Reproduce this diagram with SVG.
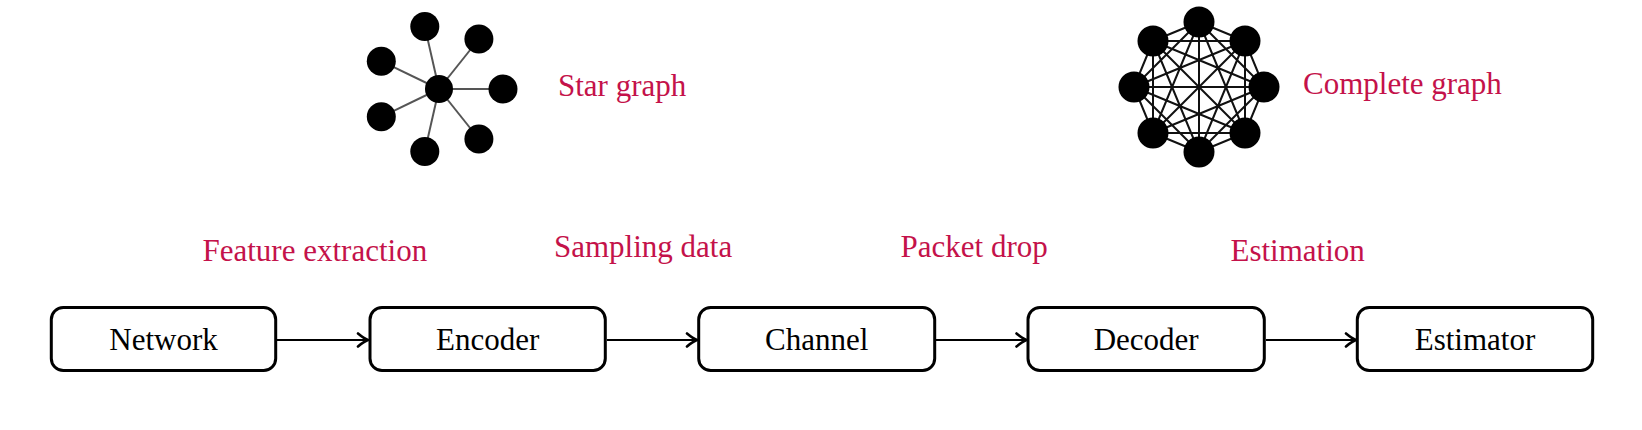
<svg xmlns="http://www.w3.org/2000/svg" width="1642" height="430" viewBox="0 0 1642 430">
<style>
.lbl{font-family:"Liberation Serif","Times New Roman",serif;font-size:31px;fill:#c4124a}
.txt{font-family:"Liberation Serif","Times New Roman",serif;font-size:31px;fill:#000;text-anchor:middle}
.box{fill:#fff;stroke:#000;stroke-width:3}
.dot{fill:#000}
.sedge{stroke:#555;stroke-width:2}
.cedge{stroke:#111;stroke-width:2}
.conn{stroke:#000;stroke-width:2;fill:none}
</style>
<defs>
<marker id="arr" markerUnits="userSpaceOnUse" viewBox="-12 -8 14 16" refX="0" refY="0" markerWidth="14" markerHeight="16" orient="auto">
<path d="M -10 -6.5 Q -4 -1.5 0 0 Q -4 1.5 -10 6.5" fill="none" stroke="#000" stroke-width="2.6" stroke-linecap="round" stroke-linejoin="round"/>
</marker>
</defs>
<rect width="1642" height="430" fill="#fff"/>
<g id="star-graph">
<line class="sedge" x1="439" y1="89" x2="503" y2="89"/>
<line class="sedge" x1="439" y1="89" x2="478.9" y2="39"/>
<line class="sedge" x1="439" y1="89" x2="478.9" y2="139"/>
<line class="sedge" x1="439" y1="89" x2="424.8" y2="26.6"/>
<line class="sedge" x1="439" y1="89" x2="424.8" y2="151.4"/>
<line class="sedge" x1="439" y1="89" x2="381.3" y2="61.2"/>
<line class="sedge" x1="439" y1="89" x2="381.3" y2="116.8"/>
<circle class="dot" cx="439" cy="89" r="14"/>
<circle class="dot" cx="503" cy="89" r="14.5"/>
<circle class="dot" cx="478.9" cy="39" r="14.5"/>
<circle class="dot" cx="478.9" cy="139" r="14.5"/>
<circle class="dot" cx="424.8" cy="26.6" r="14.5"/>
<circle class="dot" cx="424.8" cy="151.4" r="14.5"/>
<circle class="dot" cx="381.3" cy="61.2" r="14.5"/>
<circle class="dot" cx="381.3" cy="116.8" r="14.5"/>
<text class="lbl" x="558" y="96">Star graph</text>
</g>
<g id="complete-graph">
<path class="cedge" fill="none" d="M1199 22L1245 41M1199 22L1264 87M1199 22L1245 133M1199 22L1199 152M1199 22L1153 133M1199 22L1134 87M1199 22L1153 41
M1245 41L1264 87M1245 41L1245 133M1245 41L1199 152M1245 41L1153 133M1245 41L1134 87M1245 41L1153 41
M1264 87L1245 133M1264 87L1199 152M1264 87L1153 133M1264 87L1134 87M1264 87L1153 41
M1245 133L1199 152M1245 133L1153 133M1245 133L1134 87M1245 133L1153 41
M1199 152L1153 133M1199 152L1134 87M1199 152L1153 41
M1153 133L1134 87M1153 133L1153 41
M1134 87L1153 41"/>
<circle class="dot" cx="1199" cy="22" r="15.5"/>
<circle class="dot" cx="1245" cy="41" r="15.5"/>
<circle class="dot" cx="1264" cy="87" r="15.5"/>
<circle class="dot" cx="1245" cy="133" r="15.5"/>
<circle class="dot" cx="1199" cy="152" r="15.5"/>
<circle class="dot" cx="1153" cy="133" r="15.5"/>
<circle class="dot" cx="1134" cy="87" r="15.5"/>
<circle class="dot" cx="1153" cy="41" r="15.5"/>
<text class="lbl" x="1303" y="94">Complete graph</text>
</g>
<g id="connectors">
<line class="conn" x1="277" y1="340" x2="368" y2="340" marker-end="url(#arr)"/>
<line class="conn" x1="607" y1="340" x2="697" y2="340" marker-end="url(#arr)"/>
<line class="conn" x1="936" y1="340" x2="1026.5" y2="340" marker-end="url(#arr)"/>
<line class="conn" x1="1266" y1="340" x2="1356" y2="340" marker-end="url(#arr)"/>
</g>
<g id="labels">
<text class="lbl" x="202.5" y="261">Feature extraction</text>
<text class="lbl" x="554" y="257">Sampling data</text>
<text class="lbl" x="900.5" y="257">Packet drop</text>
<text class="lbl" x="1230.5" y="261">Estimation</text>
</g>
<g id="node-network">
<rect class="box" x="51.3" y="307.5" width="224.4" height="63" rx="12"/>
<text class="txt" x="163.5" y="350">Network</text>
</g>
<g id="node-encoder">
<rect class="box" x="370" y="307.5" width="235.3" height="63" rx="12"/>
<text class="txt" x="487.7" y="350">Encoder</text>
</g>
<g id="node-channel">
<rect class="box" x="698.7" y="307.5" width="236" height="63" rx="12"/>
<text class="txt" x="816.7" y="350">Channel</text>
</g>
<g id="node-decoder">
<rect class="box" x="1028" y="307.5" width="236.3" height="63" rx="12"/>
<text class="txt" x="1146.2" y="350">Decoder</text>
</g>
<g id="node-estimator">
<rect class="box" x="1357.3" y="307.5" width="235.4" height="63" rx="12"/>
<text class="txt" x="1475" y="350">Estimator</text>
</g>
</svg>
